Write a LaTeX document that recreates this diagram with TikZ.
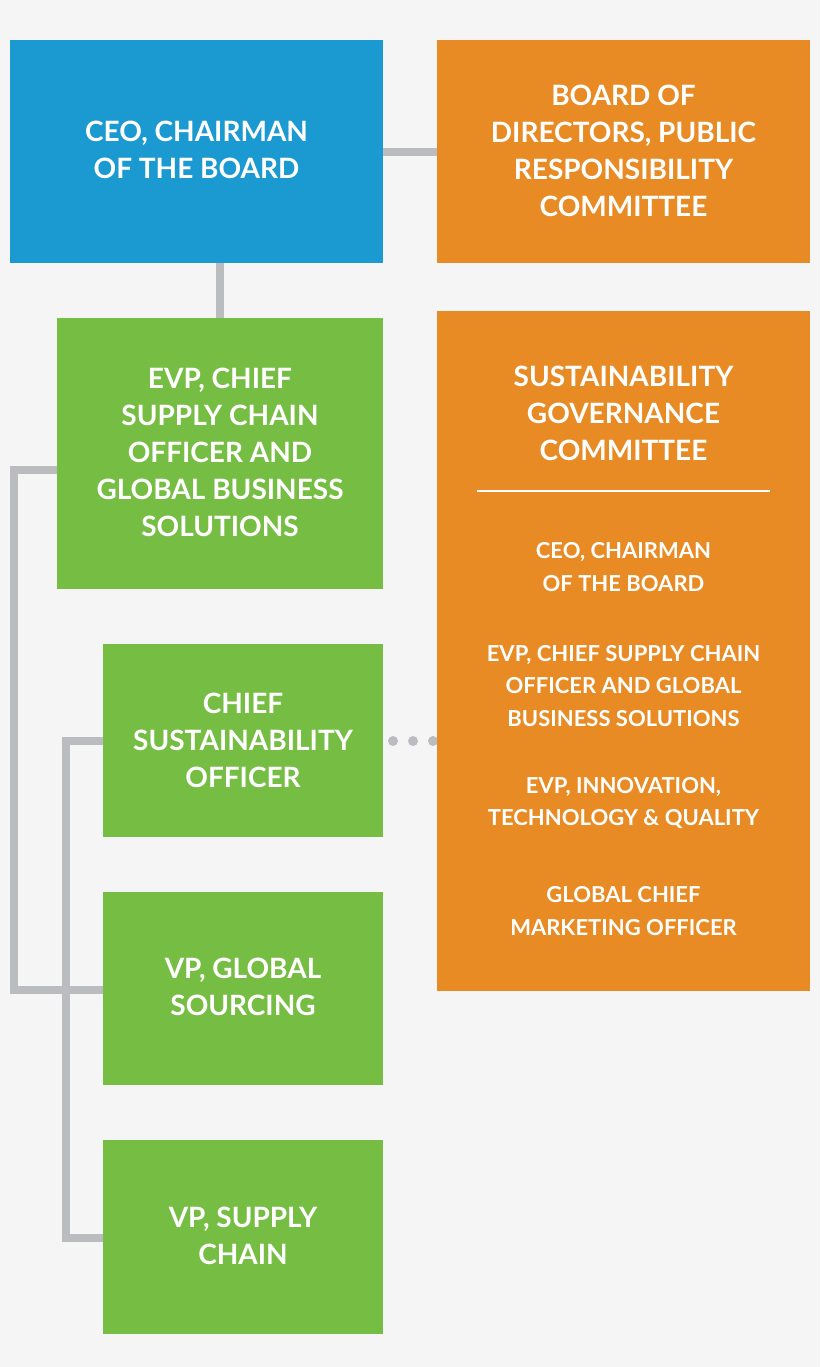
\documentclass[tikz,border=0pt]{standalone}
\usepackage{fontspec}
\setmainfont{Lato}
\definecolor{bg}{HTML}{F5F5F5}
\definecolor{cblue}{HTML}{1A9AD0}
\definecolor{corange}{HTML}{E88B25}
\definecolor{cgreen}{HTML}{76BD43}
\definecolor{cgray}{HTML}{BBBCC0}
\begin{document}
\begin{tikzpicture}[x=1pt,y=-1pt,
 box/.style={draw=none,inner sep=0,align=center,text=white,font=\bfseries\fontsize{28}{37}\selectfont},
 small/.style={inner sep=0,align=center,text=white,font=\bfseries\fontsize{22}{32.5}\selectfont},
 conn/.style={cgray,line width=8pt}]
\fill[bg] (0,0) rectangle (820,1367);
\useasboundingbox (0,0) rectangle (820,1367);
\draw[conn] (383,152) -- (437,152);
\draw[conn] (220,263) -- (220,318);
\draw[conn] (57,470) -- (14,470) -- (14,990) -- (103,990);
\draw[conn] (103,741) -- (66,741) -- (66,1238) -- (103,1238);
\foreach \x in {393,413,433} \fill[cgray] (\x,741) circle (5);
\fill[cblue] (10,40) rectangle (383,263);
\node[box] (ceo) at (196.5,150) {CEO, CHAIRMAN\\OF THE BOARD};
\fill[corange] (437,40) rectangle (810,263);
\node[box] (board) at (623.5,151) {BOARD OF\\DIRECTORS, PUBLIC\\RESPONSIBILITY\\COMMITTEE};
\fill[cgreen] (57,318) rectangle (383,589);
\node[box] (evp) at (220,452) {EVP, CHIEF\\SUPPLY CHAIN\\OFFICER AND\\GLOBAL BUSINESS\\SOLUTIONS};
\fill[corange] (437,311) rectangle (810,991);
\node[box] (sgc) at (623.5,413) {SUSTAINABILITY\\GOVERNANCE\\COMMITTEE};
\draw[white,line width=2pt] (477,491) -- (770,491);
\node[small] (m1) at (623.5,567) {CEO, CHAIRMAN\\OF THE BOARD};
\node[small] (m2) at (623.5,686) {EVP, CHIEF SUPPLY CHAIN\\OFFICER AND GLOBAL\\BUSINESS SOLUTIONS};
\node[small] (m3) at (623.5,803) {EVP, INNOVATION,\\TECHNOLOGY \& QUALITY};
\node[small] (m4) at (623.5,911) {GLOBAL CHIEF\\MARKETING OFFICER};
\fill[cgreen] (103,644) rectangle (383,837);
\node[box] (cso) at (243,740) {CHIEF\\SUSTAINABILITY\\OFFICER};
\fill[cgreen] (103,892) rectangle (383,1085);
\node[box] (vpgs) at (243,987) {VP, GLOBAL\\SOURCING};
\fill[cgreen] (103,1140) rectangle (383,1334);
\node[box] (vpsc) at (243,1236) {VP, SUPPLY\\CHAIN};
\end{tikzpicture}
\end{document}
